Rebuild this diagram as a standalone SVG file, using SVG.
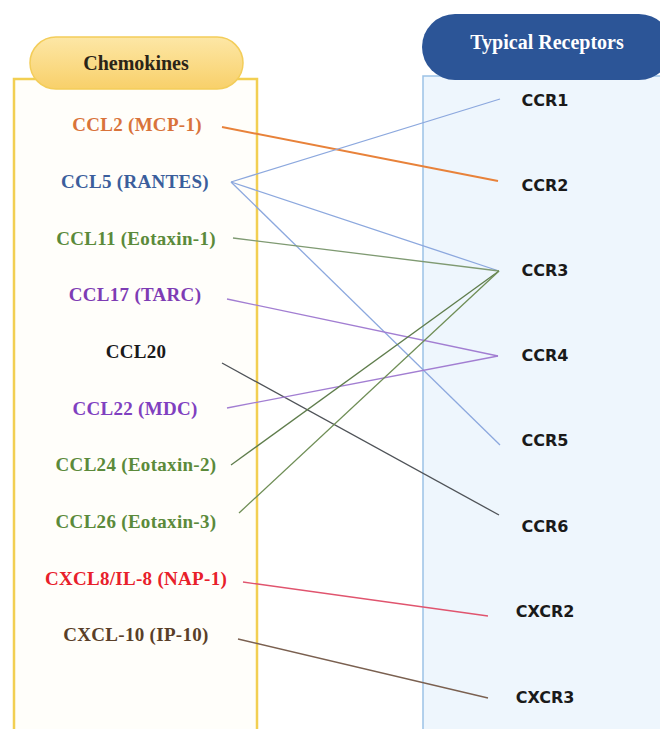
<svg xmlns="http://www.w3.org/2000/svg" width="660" height="729" viewBox="0 0 660 729">
<style>
.lt{font-family:"Liberation Serif","Times New Roman",serif;font-weight:bold;font-size:19px;text-anchor:middle;letter-spacing:0.3px}
.rt{font-family:"DejaVu Sans",Verdana,sans-serif;font-weight:bold;font-size:16px;fill:#1a1a1a;text-anchor:middle}
.hd{font-family:"Liberation Serif","Times New Roman",serif;font-weight:bold;font-size:20px;text-anchor:middle}
.cn line{stroke-width:1.3;fill:none}
</style>
<defs>
<linearGradient id="yg" x1="0" y1="0" x2="0" y2="1">
<stop offset="0" stop-color="#fde7a6"/>
<stop offset="1" stop-color="#f8d06a"/>
</linearGradient>
</defs>
<rect width="660" height="729" fill="#ffffff"/>
<g id="chemokines-panel">
<rect x="14" y="79" width="243" height="670" fill="#fffefa" stroke="#f2cf52" stroke-width="2.5"/>
<rect x="30" y="37" width="213" height="52" rx="26" fill="url(#yg)" stroke="#f3cd5a" stroke-width="1.5"/>
<text class="hd" x="136" y="70" fill="#2a2418">Chemokines</text>
</g>
<g id="receptors-panel">
<rect x="423" y="76" width="250" height="670" fill="#eef6fd" stroke="#9cc2e6" stroke-width="1.5"/>
<rect x="422" y="14" width="250" height="66" rx="33" fill="#2c5597"/>
<text class="hd" x="547" y="49" fill="#ffffff">Typical Receptors</text>
</g>
<g id="connectors" class="cn">
<line x1="222" y1="127" x2="498" y2="181" stroke="#e8823a" style="stroke-width:2"/>
<line x1="231" y1="182" x2="500" y2="99" stroke="#8ca8de"/>
<line x1="231" y1="182" x2="499" y2="271" stroke="#8ca8de"/>
<line x1="231" y1="182" x2="500" y2="445" stroke="#8ca8de"/>
<line x1="233" y1="238" x2="499" y2="271" stroke="#7f9a72"/>
<line x1="227" y1="299" x2="498" y2="356" stroke="#a27ed2"/>
<line x1="222" y1="363" x2="499" y2="515" stroke="#4f5358"/>
<line x1="227" y1="408" x2="498" y2="356" stroke="#a27ed2"/>
<line x1="231" y1="465" x2="499" y2="271" stroke="#5f7d4c"/>
<line x1="239" y1="513" x2="499" y2="271" stroke="#6f8e56"/>
<line x1="243" y1="582" x2="488" y2="616" stroke="#e0546e"/>
<line x1="238" y1="639" x2="488" y2="698" stroke="#7a6050"/>
</g>
<g id="ccl2"><text class="lt" x="137" y="131" fill="#d9733a">CCL2 (MCP-1)</text></g>
<g id="ccl5"><text class="lt" x="135" y="188" fill="#3b5e9c">CCL5 (RANTES)</text></g>
<g id="ccl11"><text class="lt" x="136" y="245" fill="#5b8a3a">CCL11 (Eotaxin-1)</text></g>
<g id="ccl17"><text class="lt" x="135" y="301" fill="#7e3cb4">CCL17 (TARC)</text></g>
<g id="ccl20"><text class="lt" x="136" y="358" fill="#1a1a1a">CCL20</text></g>
<g id="ccl22"><text class="lt" x="135" y="415" fill="#8040c0">CCL22 (MDC)</text></g>
<g id="ccl24"><text class="lt" x="136" y="471" fill="#5b8a3a">CCL24 (Eotaxin-2)</text></g>
<g id="ccl26"><text class="lt" x="136" y="528" fill="#5b8a3a">CCL26 (Eotaxin-3)</text></g>
<g id="cxcl8"><text class="lt" x="136" y="585" fill="#e8202a">CXCL8/IL-8 (NAP-1)</text></g>
<g id="cxcl10"><text class="lt" x="136" y="641" fill="#5a3f28">CXCL-10 (IP-10)</text></g>
<g id="ccr1"><text class="rt" x="545" y="106">CCR1</text></g>
<g id="ccr2"><text class="rt" x="545" y="191">CCR2</text></g>
<g id="ccr3"><text class="rt" x="545" y="276">CCR3</text></g>
<g id="ccr4"><text class="rt" x="545" y="361">CCR4</text></g>
<g id="ccr5"><text class="rt" x="545" y="446">CCR5</text></g>
<g id="ccr6"><text class="rt" x="545" y="532">CCR6</text></g>
<g id="cxcr2"><text class="rt" x="545" y="617">CXCR2</text></g>
<g id="cxcr3"><text class="rt" x="545" y="703">CXCR3</text></g>
</svg>
